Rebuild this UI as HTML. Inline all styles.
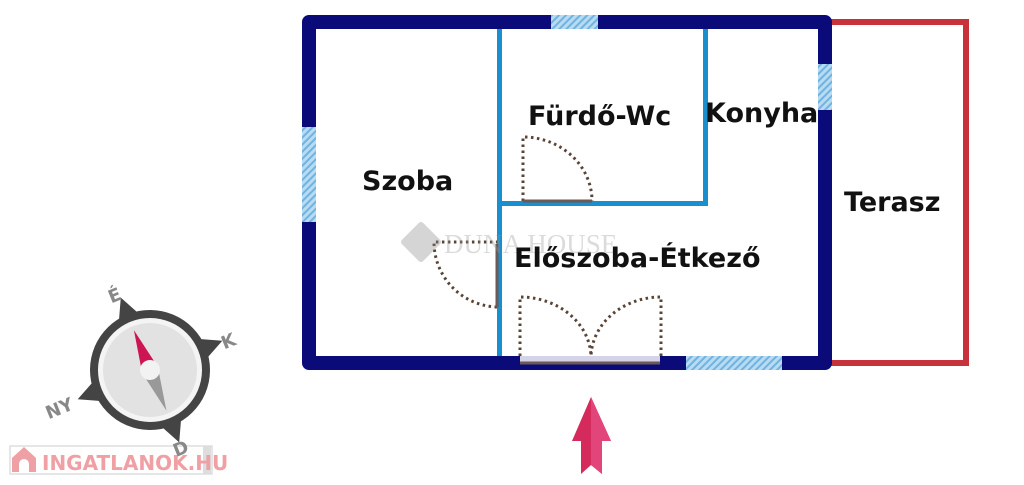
<!DOCTYPE html>
<html><head><meta charset="utf-8"><style>
html,body{margin:0;padding:0;background:#fff;width:1024px;height:485px;overflow:hidden}
svg{display:block}
text{font-family:"DejaVu Sans","Liberation Sans",sans-serif;font-weight:bold}
</style></head><body>
<svg width="1024" height="485" viewBox="0 0 1024 485" xmlns="http://www.w3.org/2000/svg">
<defs>
<pattern id="h" width="5" height="5" patternUnits="userSpaceOnUse" patternTransform="rotate(45)">
<rect width="5" height="5" fill="#b9dbf2"/><rect width="2" height="5" fill="#6fb3e0"/>
</pattern>
</defs>
<path d="M830 22 H966 V363 H830" fill="none" stroke="#c8323a" stroke-width="6"/>
<path d="M309 22 H825 V363 H309 Z" fill="none" stroke="#0a0a78" stroke-width="14" stroke-linejoin="round"/>
<rect x="551" y="15" width="47" height="14" fill="url(#h)"/>
<rect x="302" y="127" width="14" height="95" fill="url(#h)"/>
<rect x="818" y="64" width="14" height="46" fill="url(#h)"/>
<rect x="686" y="356" width="96" height="14" fill="url(#h)"/>
<rect x="520" y="356" width="140" height="8" fill="#d5d3e8"/>
<line x1="520" y1="363" x2="660" y2="363" stroke="#6b5a55" stroke-width="3"/>
<g stroke="#1a8fd0" stroke-width="5" fill="none">
<line x1="499.5" y1="29" x2="499.5" y2="356"/>
<line x1="705.5" y1="29" x2="705.5" y2="206"/>
<line x1="497" y1="203.5" x2="708" y2="203.5"/>
</g>
<g stroke="#5a4438" stroke-width="3" fill="none" stroke-dasharray="2.5,3.5">
<path d="M523 201 V137 A69 64 0 0 1 592 201"/>
<path d="M497 307 A65 65 0 0 1 434 242 H497"/>
<path d="M520 356 V297 A71 61 0 0 1 591 356"/>
<path d="M661 356 V297 A70 61 0 0 0 591 356"/>
</g>
<line x1="523" y1="201" x2="592" y2="201" stroke="#6b5a55" stroke-width="3"/>
<line x1="497" y1="244" x2="497" y2="307" stroke="#6b5a55" stroke-width="3"/>
<g opacity="0.35">
<rect x="406" y="227" width="30" height="30" fill="#888" transform="rotate(45 421 242)" rx="3"/>
<text x="444" y="253" font-size="27" fill="#999" style="font-family:'Liberation Serif',serif;font-weight:normal">DUNA HOUSE</text>
</g>
<g fill="#111" font-size="27">
<text x="362" y="190">Szoba</text>
<text x="528" y="125">Fürdő-Wc</text>
<text x="705" y="122">Konyha</text>
<text x="844" y="211">Terasz</text>
<text x="514" y="267">Előszoba-Étkező</text>
</g>
<path d="M591 397 L611 441 L602 441 L602 474 L591 465 L581 474 L581 441 L572 441 Z" fill="#d42a5c"/>
<path d="M591 397 L611 441 L602 441 L602 474 L591 465 Z" fill="#e2457a"/>
<rect x="10" y="446" width="202" height="28" fill="#fff" stroke="#ddd" stroke-width="1.5"/>
<rect x="203" y="446" width="8" height="28" fill="#ddd"/>
<polygon points="12,458 24,447 36,458 36,472 12,472" fill="#eea0a4"/>
<path d="M19 472 V464 A5 5 0 0 1 29 464 V472 Z" fill="#fff"/>
<text x="42" y="470" font-size="20" fill="#f0a0a5">INGATLANOK.HU</text>
<g transform="rotate(-22 150 370)">
<polygon points="150,292 139,314 161,314" fill="#444"/>
<polygon points="150,448 139,426 161,426" fill="#444"/>
<polygon points="72,370 94,359 94,381" fill="#444"/>
<polygon points="228,370 206,359 206,381" fill="#444"/>
<circle cx="150" cy="370" r="60" fill="#444"/>
<circle cx="150" cy="370" r="52" fill="#f4f4f4"/>
<circle cx="150" cy="370" r="47" fill="#e2e2e2"/>
<polygon points="150,327 142,368 158,368" fill="#cc1552"/>
<polygon points="150,414 142,372 158,372" fill="#999"/>
<circle cx="150" cy="370" r="10" fill="#f2f2f2"/>
</g>
<g fill="#888" font-size="18">
<text x="108" y="301" transform="rotate(-22 116 294)">É</text>
<text x="221" y="347" transform="rotate(-22 229 340)">K</text>
<text x="45" y="415" transform="rotate(-22 58 408)">NY</text>
<text x="173" y="455" transform="rotate(-22 180 448)">D</text>
</g>
</svg>
</body></html>
